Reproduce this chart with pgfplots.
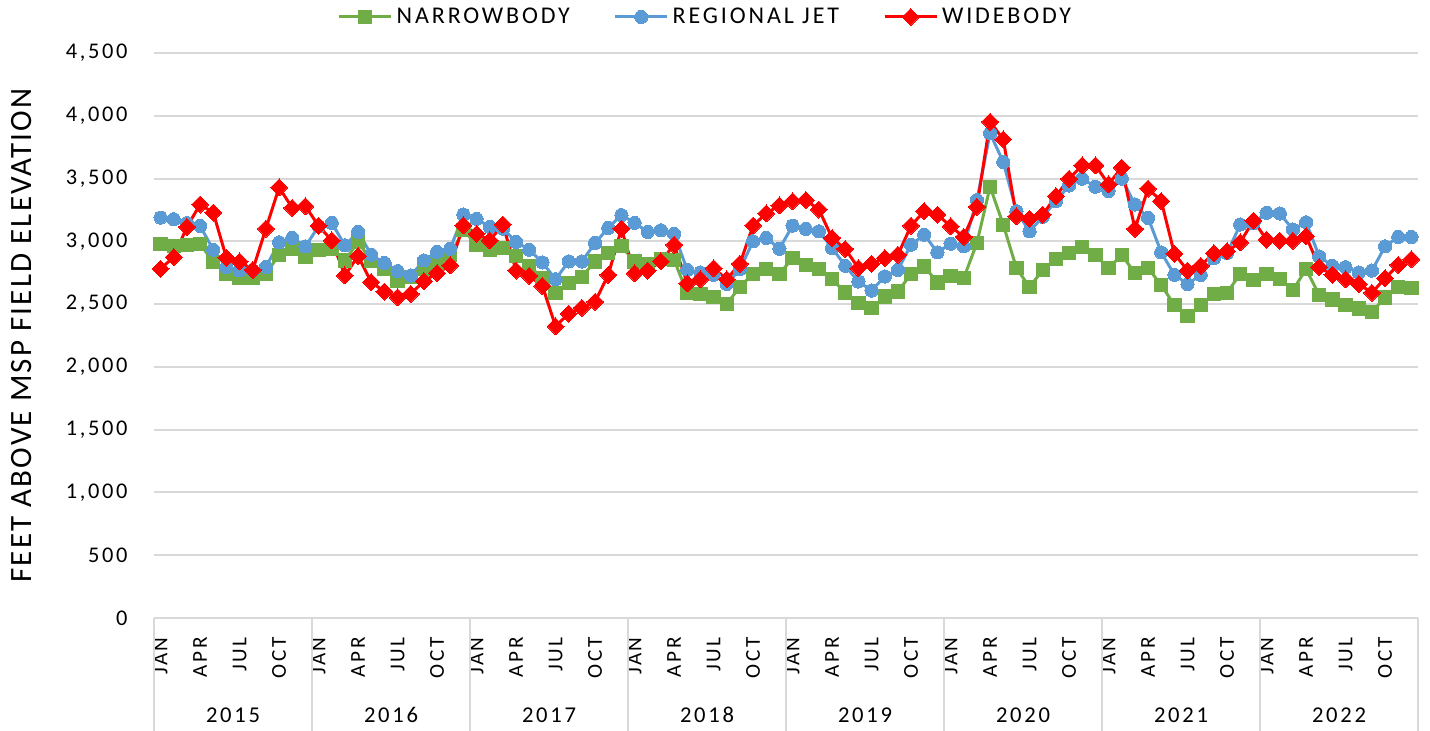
\documentclass[border=0pt]{standalone}
\usepackage{fontspec}
\setmainfont{Carlito}[LetterSpace=12]
\newfontfamily\labelfont{Carlito}[LetterSpace=7]
\usepackage{pgfplots}
\pgfplotsset{compat=1.18}
\usepackage{pgfplotstable}
\definecolor{nbgreen}{HTML}{70AD47}
\definecolor{rjblue}{HTML}{5B9BD5}
\definecolor{wbred}{HTML}{FF0000}
\definecolor{gridgray}{HTML}{D9D9D9}

\pgfplotstableread{
i nb rj wb
0 2981 3189 2781
1 2960 3176 2875
2 2968 3145 3115
3 2981 3123 3293
4 2835 2933 3229
5 2741 2795 2869
6 2709 2768 2840
7 2709 2770 2773
8 2741 2795 3101
9 2893 2992 3429
10 2941 3027 3267
11 2875 2960 3280
12 2930 3120 3123
13 2940 3147 3008
14 2848 2968 2728
15 2995 3075 2883
16 2848 2893 2675
17 2781 2827 2600
18 2688 2763 2555
19 2715 2728 2581
20 2781 2848 2683
21 2821 2915 2747
22 2888 2941 2808
23 3088 3213 3128
24 2973 3179 3059
25 2933 3115 3008
26 2947 3100 3134
27 2880 2995 2767
28 2805 2933 2725
29 2706 2832 2644
30 2591 2698 2323
31 2671 2840 2425
32 2719 2840 2471
33 2840 2987 2519
34 2906 3107 2733
35 2960 3209 3099
36 2840 3147 2746
37 2820 3075 2767
38 2860 3088 2840
39 2853 3059 2973
40 2586 2773 2666
41 2580 2751 2698
42 2559 2733 2786
43 2500 2660 2698
44 2639 2778 2821
45 2741 3000 3126
46 2778 3027 3222
47 2741 2941 3286
48 2866 3125 3320
49 2813 3099 3328
50 2779 3080 3253
51 2699 2947 3027
52 2592 2805 2939
53 2507 2680 2787
54 2467 2608 2821
55 2560 2720 2867
56 2600 2773 2893
57 2741 2973 3125
58 2800 3053 3240
59 2672 2912 3213
60 2725 2981 3120
61 2707 2960 3035
62 2987 3328 3275
63 3435 3861 3952
64 3133 3632 3813
65 2787 3240 3200
66 2635 3080 3179
67 2773 3195 3213
68 2859 3320 3360
69 2907 3445 3499
70 2952 3499 3605
71 2893 3435 3605
72 2786 3401 3455
73 2893 3500 3588
74 2746 3294 3099
75 2786 3187 3420
76 2652 2912 3321
77 2492 2733 2901
78 2404 2660 2767
79 2492 2733 2805
80 2580 2866 2906
81 2591 2906 2920
82 2741 3134 2992
83 2692 3145 3165
84 2738 3227 3013
85 2698 3222 3005
86 2612 3094 3005
87 2778 3152 3040
88 2572 2880 2794
89 2537 2805 2733
90 2492 2794 2698
91 2465 2751 2660
92 2438 2767 2591
93 2553 2960 2706
94 2634 3035 2813
95 2626 3035 2858
}\datatable

\begin{document}
\begin{tikzpicture}
\useasboundingbox (-77bp,-56.5bp) rectangle (638bp,309bp);
\begin{axis}[
  scale only axis, width=632bp, height=282.5bp,
  xmin=-0.5, xmax=95.5, ymin=0, ymax=4500,
  ytick={0,500,...,4500},
  ymajorgrids, major grid style={gridgray, line width=1bp},
  axis line style={draw=none}, tick style={draw=none},
  xtick={0,3,...,93},
  xticklabels={JAN,APR,JUL,OCT,JAN,APR,JUL,OCT,JAN,APR,JUL,OCT,JAN,APR,JUL,OCT,JAN,APR,JUL,OCT,JAN,APR,JUL,OCT,JAN,APR,JUL,OCT,JAN,APR,JUL,OCT},
  xticklabel style={rotate=90, anchor=east, inner sep=0pt, font=\fontsize{10.6bp}{12bp}\selectfont},
  xticklabel shift=9.5bp,
  yticklabel style={anchor=east, inner sep=0pt, font=\fontsize{11.2bp}{13bp}\selectfont},
  yticklabel shift=13bp,
  /pgf/number format/assume math mode=true,
  /pgf/number format/1000 sep={,},
  scaled y ticks=false,
  clip=false,
  legend style={at={(0.437,1)}, anchor=center, yshift=18bp, draw=none, fill=none,
    legend columns=-1, font=\fontsize{12bp}{14bp}\selectfont,
    /tikz/every even column/.append style={column sep=20bp}},
  legend image code/.code={\draw[mark repeat=2,mark phase=2,#1] plot coordinates {(0bp,0bp)(13bp,0bp)(26bp,0bp)};},
]
\addplot[nbgreen, line width=1.5bp, mark=square*, mark size=3.3bp, mark options={fill=nbgreen, draw=nbgreen, line width=0pt}] table[x=i, y=nb] {\datatable};
\addplot[rjblue, line width=1.5bp, mark=*, mark size=3.3bp, mark options={fill=rjblue, draw=rjblue, line width=0pt}] table[x=i, y=rj] {\datatable};
\addplot[wbred, line width=1.5bp, mark=square*, mark size=3bp, mark options={rotate=45, fill=wbred, draw=wbred, line width=0pt}] table[x=i, y=wb] {\datatable};
\legend{NARROWBODY, REGIONAL JET, WIDEBODY}
\end{axis}
\foreach \k in {0,...,8} \draw[gridgray, line width=1bp] (\k*79bp,0) -- (\k*79bp,-56.5bp);
\foreach \y [count=\k from 0] in {2015,2016,2017,2018,2019,2020,2021,2022}
  \node[font=\fontsize{11.3bp}{13bp}\selectfont] at (39.5bp+\k*79bp,-48.5bp) {\y};
\node[rotate=90, font=\fontsize{15.5bp}{18bp}\labelfont] at (-66bp,141.25bp) {FEET ABOVE MSP FIELD ELEVATION};
\end{tikzpicture}
\end{document}
